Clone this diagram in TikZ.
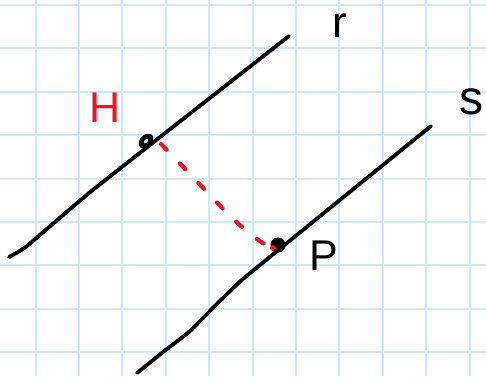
\documentclass[tikz,border=0pt]{standalone}
\usepackage{fontspec}
\newfontfamily\hand{Liberation Sans}
\usetikzlibrary{shapes.geometric}
\definecolor{gridblue}{RGB}{206,232,250}
\definecolor{penred}{RGB}{232,20,42}
\tikzset{
  gridline/.style={gridblue, line width=2pt},
  penline/.style={black, line width=3.8pt, line cap=round, line join=round},
  reddash/.style={penred, line width=4.2pt, line cap=round, dash pattern=on 8pt off 19pt},
  lbl/.style={inner sep=0pt, anchor=base, font=\hand}
}
\begin{document}
\begin{tikzpicture}[x=1pt,y=-1pt]
\useasboundingbox (0,0) rectangle (486,376);
\fill[white] (0,0) rectangle (486,376);
% grid
\foreach \k in {0,...,10} {
  \draw[gridline] ({35.5+43.4*\k},0) -- ({35.5+43.4*\k},376);
}
\foreach \k in {0,...,8} {
  \draw[gridline] (0,{5+43.4*\k}) -- (486,{5+43.4*\k});
}
% line r
\coordinate (r1) at (9,257);
\coordinate (r2) at (289,36);
\draw[penline] plot[smooth, tension=0.25] coordinates {(r1) (27,246) (94,189) (r2)};
% line s
\coordinate (s1) at (137,373);
\coordinate (s2) at (431,126);
\draw[penline] plot[smooth, tension=0.2] coordinates {(s1) (163,352) (190,331) (243,279) (s2)};
% points
\node[ellipse, fill=black, minimum width=17pt, minimum height=12pt, inner sep=0pt, rotate=45] (H) at (146,141) {};
\node[ellipse, fill=white, minimum width=6pt, minimum height=3pt, inner sep=0pt, rotate=45] (Hh) at (H.center) {};
\node[circle, fill=black, minimum size=15pt, inner sep=0pt] (P) at (278,245) {};
% dashed connector
\coordinate (Hs) at (161,144);
\coordinate (Pe) at (273,248);
\draw[reddash] (Hs) .. controls (205,188) and (245,238) .. (Pe);
\node[circle, fill=penred, minimum size=6pt, inner sep=0pt] (Pt) at (Pe) {};
% labels
\node[lbl, text=penred, font=\hand\fontsize{43}{43}\selectfont] (Hl) at (105,122) {H};
\node[lbl, font=\hand\fontsize{44}{44}\selectfont] (rl) at (340,37) {r};
\node[lbl, font=\hand\fontsize{48}{48}\selectfont] (sl) at (471,114) {s};
\node[lbl, font=\hand\fontsize{43}{43}\selectfont] (Pl) at (324,270) {P};
\end{tikzpicture}
\end{document}
